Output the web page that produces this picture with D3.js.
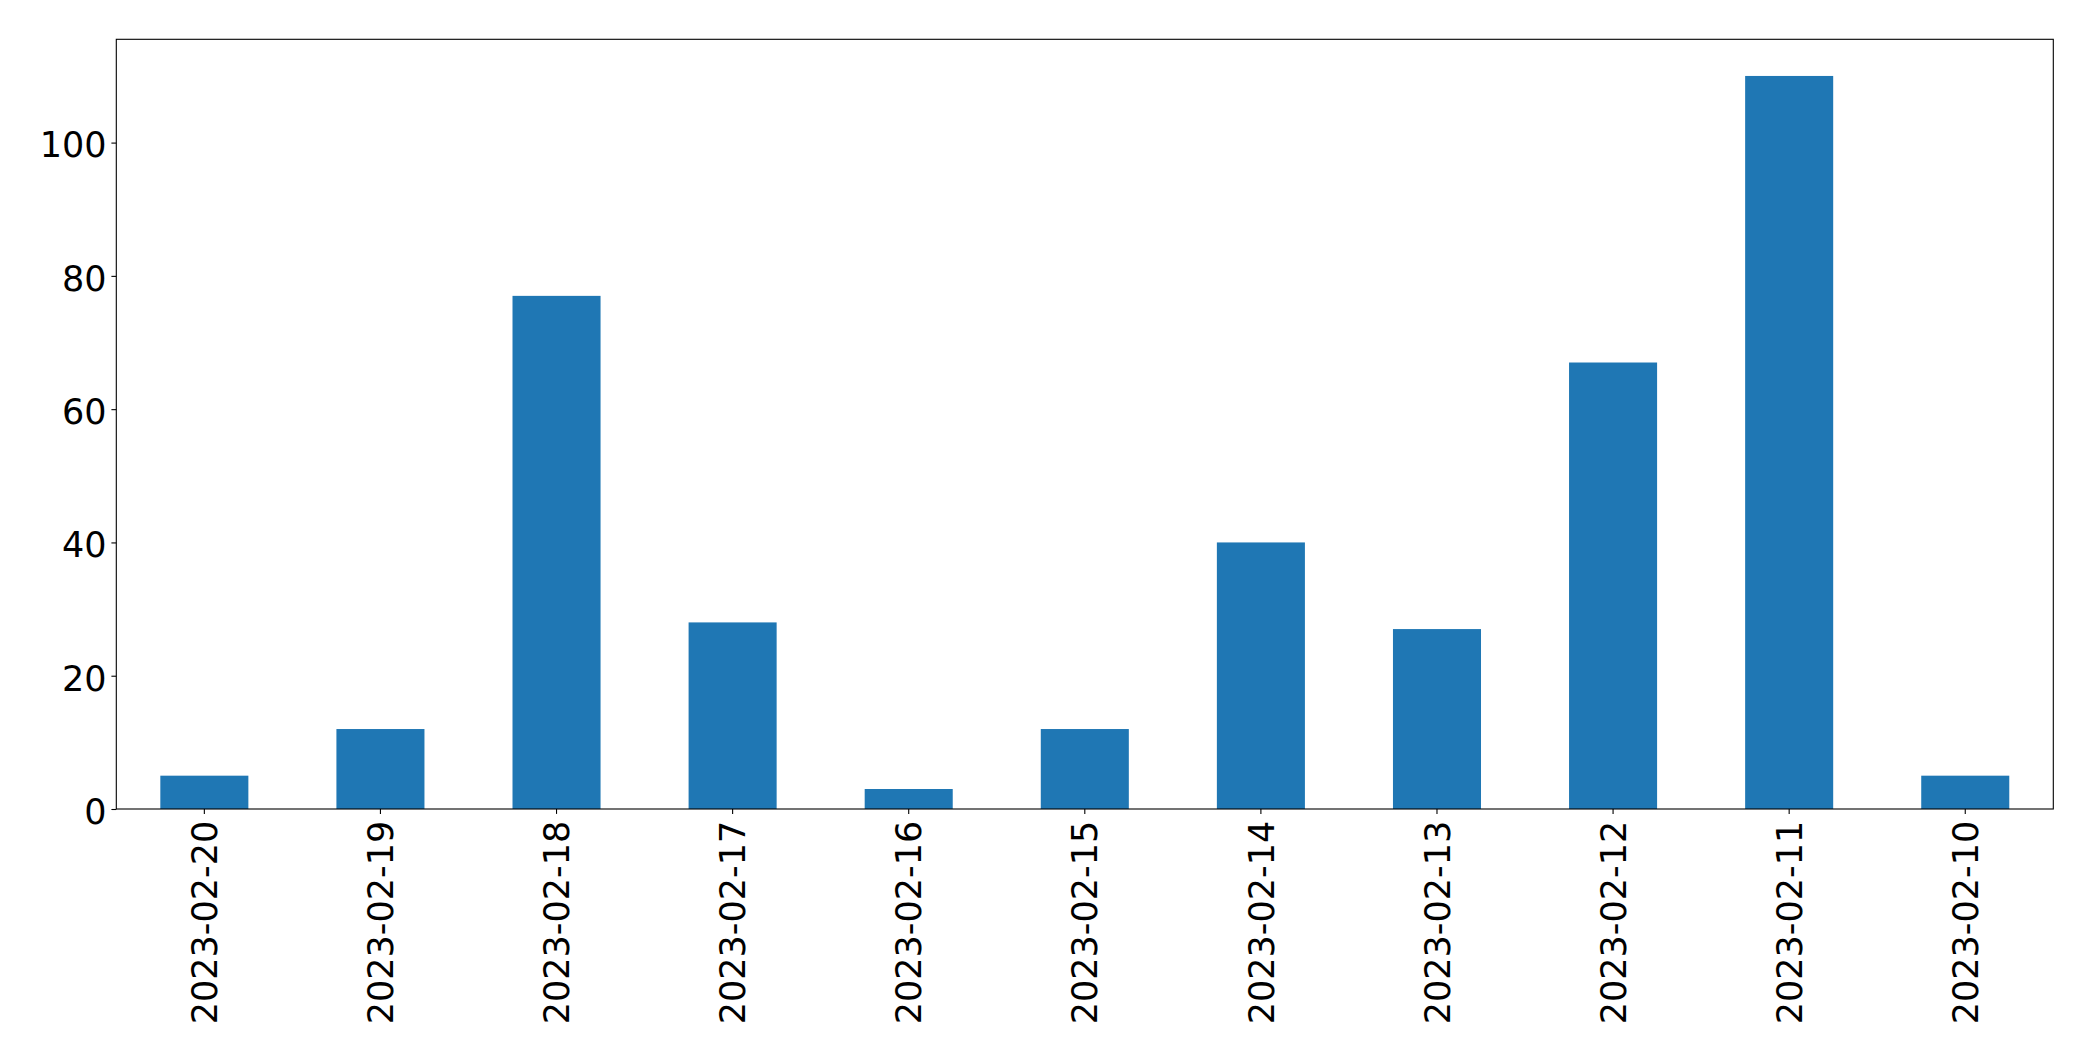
<!DOCTYPE html>
<html>
<head>
<meta charset="utf-8">
<script src="https://cdn.jsdelivr.net/npm/d3@7"></script>
<style>
  html, body { margin: 0; padding: 0; background: #ffffff; }
  svg { display: block; }
</style>
</head>
<body>
<svg id="chart" width="2093" height="1061"></svg>
<script>
const categories = ["2023-02-20", "2023-02-19", "2023-02-18", "2023-02-17", "2023-02-16", "2023-02-15", "2023-02-14", "2023-02-13", "2023-02-12", "2023-02-11", "2023-02-10"];
const values = [5, 12, 77, 28, 3, 12, 40, 27, 67, 110, 5];
const yTicks = [0, 20, 40, 60, 80, 100];
const yMax = 115.5;

(function () {
  const svg = d3.select("#chart");
  const plotLeft = 116.3, plotRight = 2053.3, plotTop = 39.3, plotBottom = 809;
  const fontFamily = "'DejaVu Sans', sans-serif";
  const fontSize = 35;
  const tickLen = 4.9, tickPad = 4.9;

  const x = d3.scaleBand().domain(categories).range([plotLeft, plotRight]).paddingInner(0.5).paddingOuter(0.25);
  const y = d3.scaleLinear().domain([0, yMax]).range([plotBottom, plotTop]);

  // bars
  svg.append("g").selectAll("rect")
    .data(categories.map((c, i) => ({c, v: values[i]})))
    .join("rect")
    .attr("x", d => x(d.c))
    .attr("width", x.bandwidth())
    .attr("y", d => y(d.v))
    .attr("height", d => y(0) - y(d.v))
    .attr("fill", "#1f77b4");

  // y axis
  const yAxis = d3.axisLeft(y).tickValues(yTicks).tickSize(tickLen).tickPadding(tickPad).tickFormat(d3.format("d"));
  const gy = svg.append("g").attr("transform", `translate(${plotLeft},0)`).call(yAxis);
  gy.select(".domain").remove();
  gy.selectAll(".tick line").attr("stroke", "#000").attr("stroke-width", 1.1);
  gy.selectAll(".tick text")
    .attr("font-family", fontFamily).attr("font-size", fontSize).attr("fill", "#000")
    .attr("dy", "0.41em");

  // x axis
  const xAxis = d3.axisBottom(x).tickSize(tickLen).tickPadding(0);
  const gx = svg.append("g").attr("transform", `translate(0,${plotBottom})`).call(xAxis);
  gx.select(".domain").remove();
  gx.selectAll(".tick line").attr("stroke", "#000").attr("stroke-width", 1.1);
  gx.selectAll(".tick text")
    .attr("font-family", fontFamily).attr("font-size", fontSize).attr("fill", "#000")
    .attr("text-anchor", "end")
    .attr("transform", `translate(0,${tickLen + tickPad + 2}) rotate(-90)`)
    .attr("x", 0).attr("y", 0)
    .attr("dy", "0.36em");

  // frame
  svg.append("rect")
    .attr("x", plotLeft).attr("y", plotTop)
    .attr("width", plotRight - plotLeft).attr("height", plotBottom - plotTop)
    .attr("fill", "none").attr("stroke", "#000").attr("stroke-width", 1.1);
})();
</script>
</body>
</html>
